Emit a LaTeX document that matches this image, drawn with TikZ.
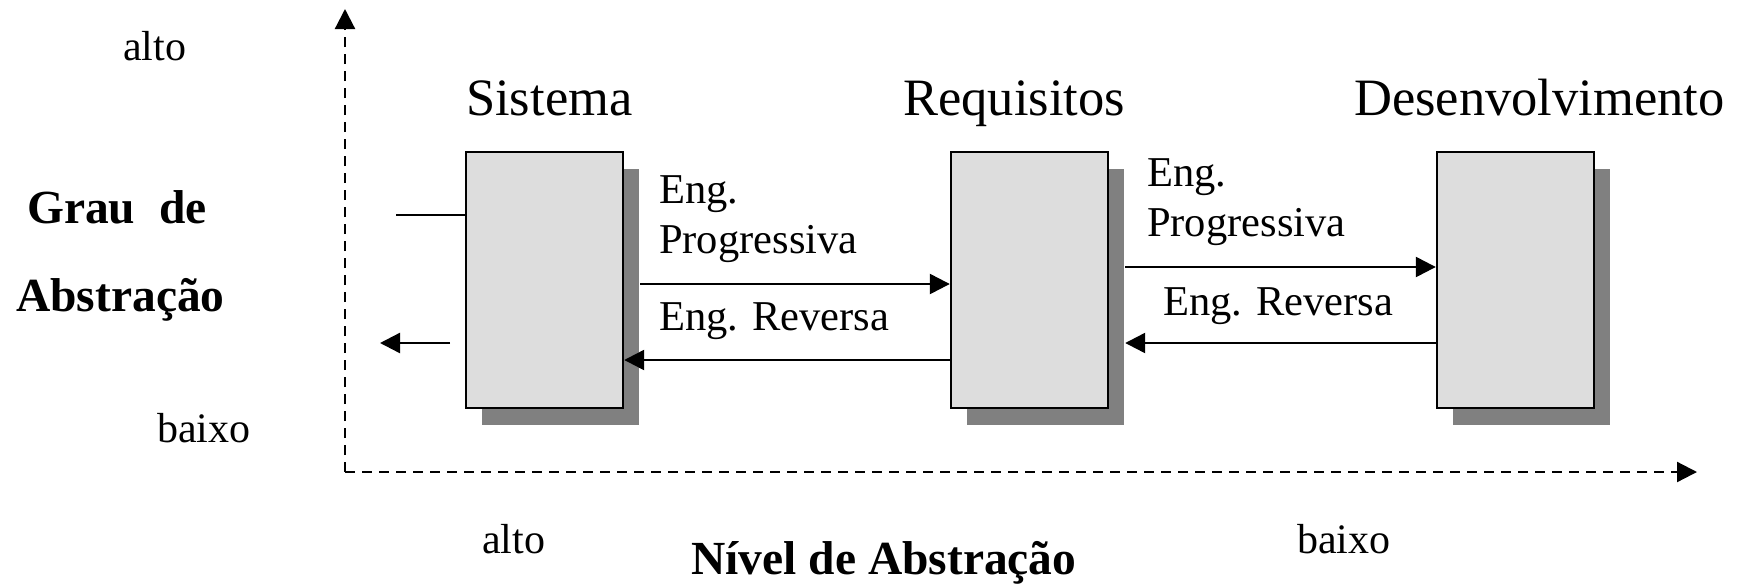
\documentclass[tikz,border=0pt]{standalone}
\usepackage{fontspec}
\setmainfont{Liberation Serif}
\usetikzlibrary{arrows.meta,shadows}
\definecolor{boxgray}{HTML}{DDDDDD}
\definecolor{shadowgray}{HTML}{808080}
\begin{document}
\begin{tikzpicture}[x=1pt,y=1pt,
  stage/.style={draw=black,line width=2.4pt,fill=boxgray,minimum width=157pt,minimum height=256pt,inner sep=0pt,
    drop shadow={shadow xshift=15.5pt,shadow yshift=-16.5pt,fill=shadowgray,opacity=1}},
  arr/.style={line width=2.4pt,-{Triangle[length=20pt,width=20pt]}},
  plain/.style={line width=2.4pt},
  axis/.style={line width=2.2pt,dash pattern=on 10pt off 7pt,-{Triangle[length=20pt,width=20pt]}},
  title/.style={anchor=base west,inner sep=0pt,font=\fontsize{52.5}{60}\selectfont},
  lbl/.style={anchor=base west,inner sep=0pt,align=left,font=\fontsize{42.5}{50}\selectfont},
  small/.style={anchor=base west,inner sep=0pt,font=\fontsize{42}{48}\selectfont},
  bold/.style={anchor=base west,inner sep=0pt,font=\fontsize{47.5}{54}\selectfont\bfseries}]
\useasboundingbox (0,0) rectangle (1743,-584);
% axes
\coordinate (o) at (345,-472);
\coordinate (ytop) at (345,-9);
\coordinate (xend) at (1697,-472);
\draw[axis] (o) -- (ytop);
\draw[axis] (o) -- (xend);
% boxes
\node[stage] (sis) at (544.5,-280) {};
\node[stage] (req) at (1029.5,-280) {};
\node[stage] (des) at (1515.5,-280) {};
% titles
\node[title] (tsis) at (466,-115) {Sistema};
\node[title] (treq) at (903,-115) {Requisitos};
\node[title] (tdes) at (1354,-115) {Desenvolvimento};
% connectors
\draw[arr] ([xshift=16pt,yshift=-4pt]sis.east) -- ([yshift=-4pt]req.west);
\draw[arr] ([yshift=-80pt]req.west) -- ([yshift=-80pt]sis.east);
\draw[arr] ([xshift=16pt,yshift=13pt]req.east) -- ([yshift=13pt]des.west);
\draw[arr] ([yshift=-63pt]des.west) -- ([xshift=16pt,yshift=-63pt]req.east);
% left stubs
\coordinate (stubL) at (396,-215);
\draw[plain] (stubL) -- (sis.west |- stubL);
\coordinate (outS) at (450,-343);
\coordinate (outT) at (380,-343);
\draw[arr] (outS) -- (outT);
% labels
\node[lbl] (ep1) at (659,-253) {Eng.\\Progressiva};
\node[lbl] (er1) at (659,-330) {Eng. Reversa};
\node[lbl] (ep2) at (1147,-236) {Eng.\\Progressiva};
\node[lbl] (er2) at (1163,-315) {Eng. Reversa};
% axis texts
\node[small] (yalto) at (123,-60) {alto};
\node[small] (ybaixo) at (157,-442) {baixo};
\node[bold] (yl1) at (27,-223) {Grau~~de};
\node[bold] (yl2) at (16,-311) {Abstração};
\node[small] (xalto) at (482,-553) {alto};
\node[small] (xbaixo) at (1297,-553) {baixo};
\node[bold] (xl) at (691,-574) {Nível de Abstração};
\end{tikzpicture}
\end{document}
